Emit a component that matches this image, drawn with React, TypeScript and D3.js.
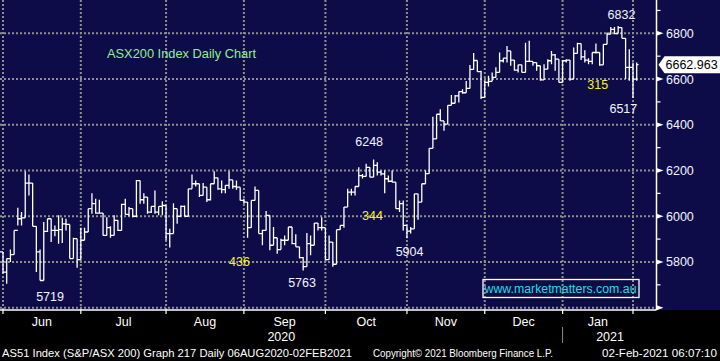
import React from "react";
import * as d3 from "d3";

// trading days per month (May 29 2020 .. Feb 2 2021)
const months = ["May", "Jun", "Jul", "Aug", "Sep", "Oct", "Nov", "Dec", "Jan", "Feb"];
const tradingDays = [1, 21, 23, 21, 22, 22, 21, 21, 19, 2];

// daily highs
const high = [
  5860,
  5844, 5815, 5854, 5938, 6037, 6018, 6197, 6183, 6145, 5956, 5854, 5975, 5989, 5989, 5960, 6004, 5993, 5989, 5964, 5906, 5902,
  5950, 5950, 6033, 6101, 6076, 6072, 6014, 5996, 5956, 6004, 5982, 6055, 6076, 6040, 6033, 6159, 6156, 6101, 6084, 6043, 6113, 6043, 6066,
  6047, 5945, 6057, 6033, 6047, 6047, 6120, 6183, 6156, 6142, 6145, 6127, 6142, 6197, 6168, 6156, 6135, 6197, 6159, 6156, 6127,
  6076, 6062, 6069, 6130, 6113, 5941, 6023, 6004, 5953, 5906, 5902, 5916, 5953, 5953, 5921, 5866, 5822, 5927, 5916, 5970, 5970, 5996,
  5950, 5916, 5887, 5941, 5960, 6040, 6120, 6120, 6130, 6214, 6185, 6229, 6214, 6248, 6236, 6200, 6200, 6178, 6200, 6149, 6069, 6069,
  5960, 5953, 6098, 6098, 6142, 6200, 6297, 6435, 6446, 6468, 6417, 6485, 6530, 6530, 6545, 6555, 6591, 6661, 6714, 6681, 6636,
  6593, 6614, 6629, 6651, 6716, 6691, 6745, 6723, 6683, 6662, 6662, 6759, 6767, 6677, 6672, 6658, 6665, 6687, 6723, 6709, 6687,
  6683, 6687, 6683, 6738, 6759, 6755, 6726, 6691, 6716, 6755, 6716, 6752, 6803, 6828, 6828, 6832, 6825, 6778, 6730,
  6672, 6672,
];

// daily lows
const low = [
  5800,
  5750, 5705, 5800, 5832, 5960, 5960, 5993, 6091, 5956, 5756, 5719, 5719, 5931, 5887, 5912, 5880, 5883, 5938, 5815, 5815, 5775,
  5810, 5895, 5931, 6011, 6011, 6011, 5916, 5916, 5906, 5916, 5935, 5938, 6008, 6000, 5996, 5996, 6055, 6055, 6011, 6014, 6011, 6004, 6004,
  5895, 5863, 5924, 5967, 6000, 6000, 6000, 6120, 6130, 6084, 6091, 6062, 6069, 6142, 6116, 6101, 6101, 6120, 6120, 6116, 6069,
  6055, 5906, 5950, 6069, 5924, 5873, 5938, 5851, 5873, 5836, 5854, 5873, 5895, 5877, 5866, 5815, 5763, 5780, 5829, 5873, 5938, 5938,
  5810, 5810, 5779, 5790, 5941, 5950, 6040, 6091, 6091, 6130, 6165, 6174, 6170, 6171, 6178, 6178, 6101, 6149, 6149, 6033, 6018, 5938,
  5904, 5924, 5945, 5985, 6062, 6142, 6186, 6297, 6338, 6417, 6374, 6403, 6485, 6494, 6497, 6536, 6540, 6559, 6642, 6632, 6513,
  6520, 6567, 6590, 6607, 6629, 6672, 6672, 6658, 6636, 6629, 6629, 6629, 6677, 6658, 6636, 6593, 6596, 6643, 6665, 6636, 6585,
  6585, 6672, 6593, 6600, 6712, 6683, 6672, 6665, 6665, 6712, 6658, 6662, 6752, 6796, 6796, 6799, 6778, 6600, 6593,
  6517, 6593,
];

// daily closes
const close = [
  5844,
  5756, 5815, 5832, 5938, 5989, 5993, 6145, 6145, 5956, 5844, 5719, 5934, 5989, 5938, 5938, 5941, 5967, 5964, 5815, 5902, 5810,
  5895, 5931, 6033, 6055, 6014, 6014, 5916, 5950, 5916, 5982, 5938, 6052, 6008, 6033, 6000, 6156, 6072, 6084, 6018, 6043, 6018, 6043, 6047,
  5924, 5924, 6033, 6000, 6043, 6000, 6120, 6142, 6142, 6091, 6127, 6072, 6142, 6168, 6120, 6116, 6135, 6159, 6130, 6127, 6069,
  6062, 5950, 6069, 6113, 5924, 5938, 6004, 5873, 5906, 5854, 5895, 5895, 5953, 5880, 5866, 5819, 5780, 5880, 5873, 5970, 5950, 5950,
  5810, 5887, 5790, 5941, 5960, 6040, 6105, 6105, 6130, 6178, 6174, 6214, 6171, 6222, 6193, 6185, 6164, 6153, 6149, 6033, 6055, 5960,
  5935, 5945, 6098, 6062, 6142, 6186, 6297, 6338, 6446, 6417, 6403, 6485, 6494, 6526, 6545, 6540, 6559, 6642, 6681, 6632, 6520,
  6585, 6590, 6607, 6629, 6680, 6691, 6723, 6683, 6639, 6662, 6629, 6677, 6677, 6672, 6658, 6596, 6643, 6680, 6706, 6687, 6585,
  6680, 6683, 6600, 6712, 6755, 6697, 6683, 6677, 6716, 6716, 6662, 6752, 6796, 6817, 6799, 6825, 6778, 6651, 6651,
  6600, 6663,
];

const yMajor = [5600, 5800, 6000, 6200, 6400, 6600, 6800];
const yMinor = [5700, 5900, 6100, 6300, 6500, 6700, 6900];
const lastPrice = 6662.963;

// chart annotations, anchored in (day index, index level)
const noteText = ["5719", "436", "5763", "344", "5904", "6248", "6832", "315", "6517"];
const noteDay = [13.7, 64.8, 81.7, 100.7, 110.7, 99.8, 167.9, 161.5, 168.4];
const noteLevel = [5647, 5804, 5712, 6005, 5844, 6329, 6884, 6578, 6469];
const noteYellow = [false, true, false, true, false, false, false, true, false];

const W = 720;
const H = 361;
const plotBottom = 310;
const axisX = 656.5;
const FONT = "'Liberation Sans', Arial, sans-serif";

export default function App() {
  const starts: number[] = [];
  let acc = 0;
  tradingDays.forEach((n) => {
    starts.push(acc);
    acc += n;
  });
  const lastIdx = acc - 1;

  // Jun 1 is day 1, Feb 1 is the start of the last month
  const x = d3.scaleLinear().domain([1, starts[starts.length - 1]]).range([3, 633]);
  const y = d3.scaleLinear().domain([5600, 6800]).range([307.7, 33.3]);
  const half = (x(2) - x(1)) / 2;

  const barPath = close
    .map((c, i) => {
      const o = i > 0 ? close[i - 1] : c;
      const xi = x(i);
      return `M${xi},${y(high[i])}V${y(low[i])}M${xi - half},${y(o)}H${xi}M${xi},${y(c)}H${xi + half}`;
    })
    .join("");

  const gridX = starts.slice(1).map((s) => x(s));
  const monthLabels = months.slice(1, -1).map((m, k) => ({
    m,
    cx: (x(starts[k + 1]) + x(starts[k + 2])) / 2,
  }));
  const janX = x(starts[8]);
  const yl = y(lastPrice);

  return (
    <svg
      width={W}
      height={H}
      style={{ position: "absolute", left: 0, top: 0, display: "block" }}
      fontFamily={FONT}
    >
      <rect x={0} y={0} width={W} height={H} fill="#000" />
      <rect x={0} y={0} width={W} height={plotBottom} fill="#0e0c48" />

      {/* grid */}
      <g stroke="#8e8e8e" strokeWidth={2} strokeDasharray="2 2">
        {gridX.map((gx, k) => (
          <line key={"gx" + k} x1={gx} x2={gx} y1={0} y2={plotBottom} />
        ))}
        {yMajor.map((v) => (
          <line key={"gy" + v} x1={0} x2={axisX} y1={y(v)} y2={y(v)} />
        ))}
      </g>

      <text x={107} y={57.5} fill="#90ee90" fontSize={13} textLength={149} lengthAdjust="spacingAndGlyphs">
        ASX200 Index Daily Chart
      </text>

      {/* price bars */}
      <path d={barPath} fill="none" stroke="#fff" strokeWidth={1.3} />

      {/* annotations */}
      {noteText.map((t, k) => (
        <text
          key={t}
          x={x(noteDay[k])}
          y={y(noteLevel[k]) + 4.5}
          textAnchor="middle"
          fontSize={12.5}
          fill={noteYellow[k] ? "#f4f41c" : "#f2f4ff"}
        >
          {t}
        </text>
      ))}

      {/* watermark */}
      <rect x={483} y={279.5} width={156} height={18} fill="none" stroke="#fff" strokeWidth={1.3} />
      <text x={484.5} y={293} fill="#22dde0" fontSize={12.5} textLength={152} lengthAdjust="spacingAndGlyphs">
        www.marketmatters.com.au
      </text>

      {/* right axis */}
      <line x1={axisX} x2={axisX} y1={0} y2={plotBottom} stroke="#fff" strokeWidth={1.5} />
      {yMinor.map((v) => (
        <line key={"mn" + v} x1={axisX} x2={axisX + 4} y1={y(v)} y2={y(v)} stroke="#fff" strokeWidth={1.2} />
      ))}
      {yMajor.map((v) => (
        <g key={"mj" + v}>
          <path d={`M${axisX},${y(v) - 2.5}L${axisX + 7},${y(v)}L${axisX},${y(v) + 2.5}Z`} fill="#fff" />
          {v > 5600 && (
            <text x={666} y={y(v) + 4.5} fill="#f2f4ff" fontSize={12.5}>
              {v}
            </text>
          )}
        </g>
      ))}
      <path
        d={`M${axisX + 2},${yl}L${axisX + 8},${yl - 8.5}H${W}V${yl + 8.5}H${axisX + 8}Z`}
        fill="#fff"
      />
      <text x={665.5} y={yl + 4.5} fill="#000" fontSize={12.5}>
        {lastPrice.toFixed(3)}
      </text>

      {/* bottom axis */}
      <line x1={0} x2={axisX} y1={plotBottom} y2={plotBottom} stroke="#fff" strokeWidth={1.5} />
      {gridX.map((gx, k) => (
        <line key={"tk" + k} x1={gx} x2={gx} y1={plotBottom} y2={plotBottom + 4} stroke="#fff" strokeWidth={1.2} />
      ))}
      {monthLabels.map((d) => (
        <text key={d.m} x={d.cx} y={325.5} textAnchor="middle" fill="#fff" fontSize={12.5}>
          {d.m}
        </text>
      ))}
      <line x1={janX} x2={janX} y1={327} y2={343} stroke="#8a8a8a" strokeWidth={1} />
      <text x={janX / 2} y={340.5} textAnchor="middle" fill="#fff" fontSize={12.5}>
        2020
      </text>
      <text x={(janX + axisX) / 2 + 0.5} y={340.5} textAnchor="middle" fill="#fff" fontSize={12.5}>
        2021
      </text>

      {/* footer */}
      <text x={2} y={357} fill="#fff" fontSize={11.5} textLength={350} lengthAdjust="spacingAndGlyphs">
        AS51 Index (S&amp;P/ASX 200) Graph 217  Daily 06AUG2020-02FEB2021
      </text>
      <text x={373} y={357} fill="#fff" fontSize={11.5} textLength={180} lengthAdjust="spacingAndGlyphs">
        Copyright© 2021 Bloomberg Finance L.P.
      </text>
      <text x={602} y={357} fill="#fff" fontSize={11.5} textLength={115} lengthAdjust="spacingAndGlyphs">
        02-Feb-2021 06:07:10
      </text>
    </svg>
  );
}
